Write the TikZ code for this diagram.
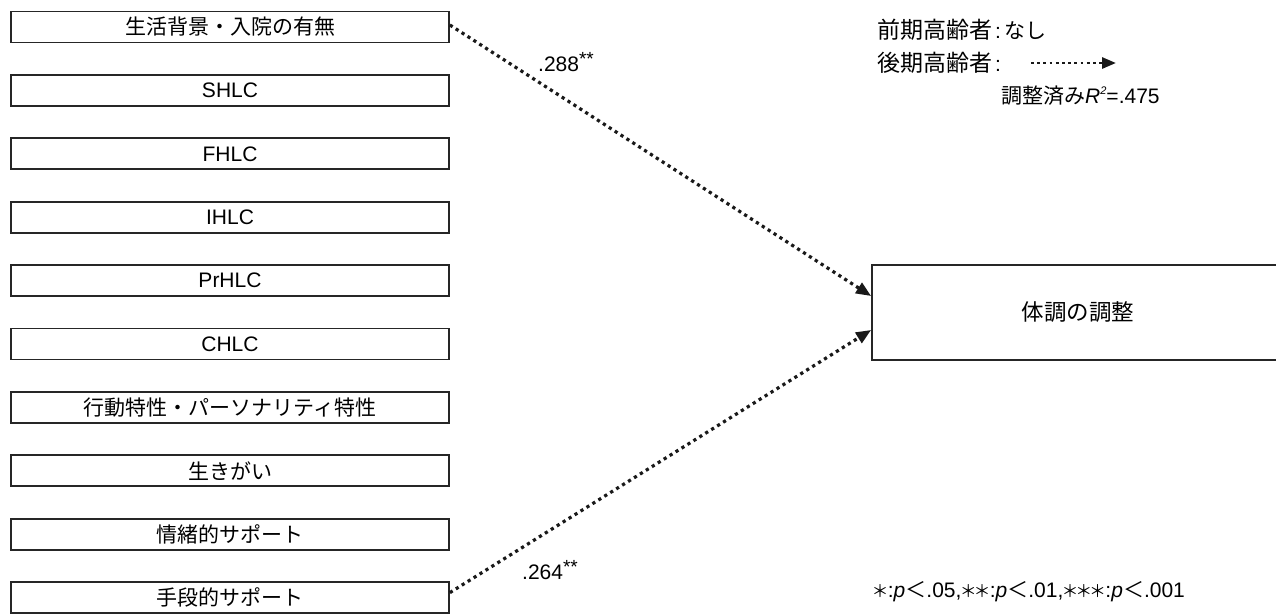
\documentclass[tikz,border=0pt]{standalone}
\usepackage{fontspec}
\setmainfont{Liberation Sans}
\newfontfamily\jp{Noto Sans CJK JP}
\usetikzlibrary{arrows.meta}
\newcommand{\stars}[1]{\raisebox{0.32em}{\fontsize{19}{19}\selectfont #1}}
\newcommand{\wstar}{\makebox[13.7pt]{\jp\fontsize{17}{17}\selectfont ＊}}
\begin{document}
\begin{tikzpicture}[x=1pt,y=-1pt,
  box/.style={draw=black!85,line width=1.8pt,minimum width=438pt,minimum height=31pt,inner sep=0pt,font=\fontsize{21}{21}\selectfont},
  dotarrow/.style={line width=3.2pt,dash pattern=on 3.2pt off 3.8pt,-{Triangle[length=15pt,width=12pt]},black!90},
  lbl/.style={inner sep=0pt,font=\fontsize{21}{21}\selectfont}]
\useasboundingbox (0,0) rectangle (1276,613);
\node[box] (b1) at (230,27) {\jp 生活背景・入院の有無};
\node[box] (b2) at (230,90.4) {SHLC};
\node[box] (b3) at (230,153.8) {FHLC};
\node[box] (b4) at (230,217.2) {IHLC};
\node[box] (b5) at (230,280.6) {PrHLC};
\node[box] (b6) at (230,344) {CHLC};
\node[box] (b7) at (230,407.4) {\jp 行動特性・パーソナリティ特性};
\node[box] (b8) at (230,470.8) {\jp 生きがい};
\node[box] (b9) at (230,534.2) {\jp 情緒的サポート};
\node[box] (b10) at (230,597.6) {\jp 手段的サポート};
\node[draw=black!85,line width=1.8pt,minimum width=412pt,minimum height=95pt,inner sep=0pt,font=\fontsize{22.5}{22.5}\selectfont] (t) at (1078,312.5) {\jp 体調の調整};
\draw[dotarrow] ([yshift=2pt]b1.east) -- ([yshift=16.5pt]t.west);
\draw[dotarrow] ([yshift=5pt]b10.east) -- ([yshift=-17.5pt]t.west);
\node[lbl,anchor=west] (l1) at (538,62) {.288\stars{**}};
\node[lbl,anchor=west] (l2) at (522,570) {.264\stars{**}};
\node[lbl,anchor=west] (g1) at (877,30) {{\jp\fontsize{23}{23}\selectfont 前期高齢者}\hspace{3pt}:\hspace{3pt}{\jp なし}};
\node[lbl,anchor=west] (g2) at (877,63) {{\jp\fontsize{23}{23}\selectfont 後期高齢者}\hspace{3pt}:};
\coordinate (a1) at (1031,63);
\coordinate (a2) at (1116,63);
\draw[dotarrow,line width=2.8pt,dash pattern=on 2.8pt off 3.4pt,-{Triangle[length=14pt,width=11pt]}] (a1) -- (a2);
\node[lbl,anchor=west] (g3) at (1001,96) {{\jp 調整済み}\textit{R}\raisebox{0.45em}{\fontsize{11}{11}\selectfont\textit{2}}=.475};
\node[lbl,anchor=west] (fn) at (873,592) {\wstar\hspace{1pt}:\textit{p}{\jp ＜}.05,\wstar\wstar\hspace{1pt}:\textit{p}{\jp ＜}.01,\wstar\wstar\wstar\hspace{1pt}:\textit{p}{\jp ＜}.001};
\end{tikzpicture}
\end{document}
